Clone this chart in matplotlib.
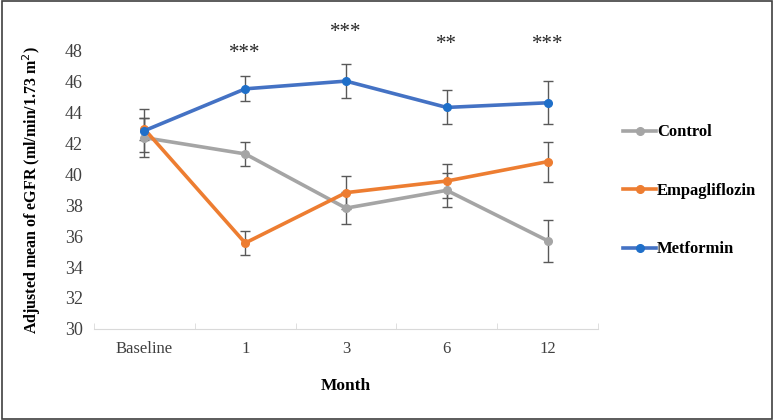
import numpy as np
import matplotlib.pyplot as plt
from matplotlib.patches import Rectangle

months = ["Baseline", "1", "3", "6", "12"]
control = [42.35, 41.3, 37.8, 38.95, 35.7]
control_err = [1.25, 0.8, 1.05, 1.1, 1.35]
empa = [42.9, 35.55, 38.8, 39.55, 40.8]
empa_err = [0.7, 0.75, 1.05, 1.1, 1.3]
metf = [42.8, 45.5, 46.0, 44.3, 44.6]
metf_err = [1.4, 0.8, 1.1, 1.1, 1.4]
stars = ["", "***", "***", "**", "***"]
star_y = [0, 47.75, 49.15, 48.35, 48.35]

plt.rcParams['font.family'] = ['Liberation Serif', 'DejaVu Serif']

fig = plt.figure(figsize=(7.74, 4.2), dpi=100)
ax = fig.add_axes([0.1215, 0.2167, 0.651, 0.664])
x = np.arange(len(months))

series = [("Control", control, control_err, "#A5A5A5", "#A5A5A5"),
          ("Empagliflozin", empa, empa_err, "#ED7D31", "#ED7D31"),
          ("Metformin", metf, metf_err, "#4472C4", "#1F6FC9")]
for name, vals, err, c, mc in series:
    ax.errorbar(x, vals, yerr=err, fmt="none", ecolor="#595959", elinewidth=1, capsize=3.5, capthick=1, zorder=2)
    ax.plot(x, vals, "-o", color=c, mfc=mc, mec=mc, lw=2.6, ms=5.5, label=name, zorder=3)

for i, s in enumerate(stars):
    if s:
        ax.text(x[i], star_y[i], s, ha="center", va="center", fontsize=15, color="#262626", clip_on=False)

ax.set_xlim(-0.5, 4.5)
ax.set_ylim(30, 48)
ax.set_yticks(range(30, 49, 2))
ax.set_xticks(x)
ax.set_xticklabels(months)
ax.set_xticks(np.arange(-0.5, 4.6, 1), minor=True)
ax.tick_params(axis="x", which="major", length=0, pad=9, labelsize=12)
ax.tick_params(axis="x", which="minor", length=4, color="#D9D9D9", direction="in")
ax.tick_params(axis="y", length=0, pad=8, labelsize=13, labelcolor="#404040")
ax.tick_params(axis="x", labelcolor="#404040")
for sp in ["top", "right", "left"]:
    ax.spines[sp].set_visible(False)
ax.spines["bottom"].set_color("#D9D9D9")

ax.set_xlabel("Month", fontsize=12.5, fontweight="bold", labelpad=15)
ax.set_ylabel("Adjusted mean of eGFR (ml/min/1.73 m$^2$)", fontsize=11.5, fontweight="bold", labelpad=16)

ax.legend(loc="center left", bbox_to_anchor=(1.02, 0.495), frameon=False,
          prop={"weight": "bold", "size": 12}, handlelength=2.0, handletextpad=0.05, labelspacing=2.55)

fig.patches.append(Rectangle((0.002, 0.003), 0.996, 0.994, transform=fig.transFigure,
                             fill=False, edgecolor="#404040", lw=1.2))

fig.savefig("out.png", dpi=100)
